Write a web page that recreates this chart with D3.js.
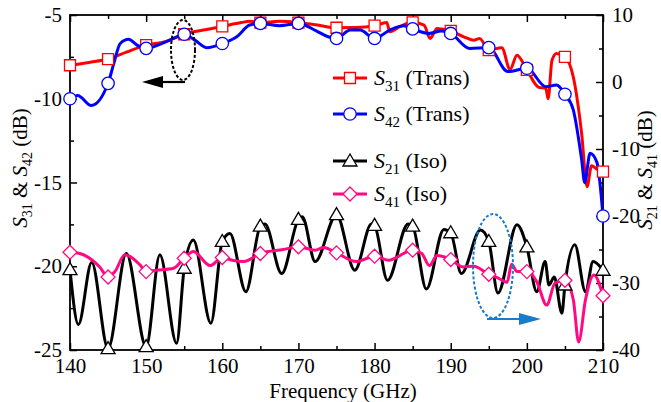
<!DOCTYPE html>
<html>
<head>
<meta charset="utf-8">
<script src="https://cdn.jsdelivr.net/npm/d3@7/dist/d3.min.js"></script>
<style>
  html, body { margin: 0; padding: 0; background: #fff; }
  svg { display: block; }
  svg text { font-family: "Liberation Serif", "Times New Roman", serif; }
</style>
</head>
<body>
<svg id="chart" width="661" height="402"></svg>
<script>
// ---------- data ----------
const xTicksMajor = [140, 150, 160, 170, 180, 190, 200, 210];
const xTicksMinor = [145, 155, 165, 175, 185, 195, 205];
const yLeftTicks = [-5, -10, -15, -20, -25];
const yLeftMinor = [-7.5, -12.5, -17.5, -22.5];
const yRightTicks = [10, 0, -10, -20, -30, -40];
const yRightMinor = [5, -5, -15, -25, -35];
const markerFreqs = [140, 145, 150, 155, 160, 165, 170, 175, 180, 185, 190, 195, 200, 205, 210];

// S31 (Trans) - left axis
const s31Freq = [140, 142.5, 145, 147.5, 150, 152.5, 155, 157.5, 160, 162.5, 163.6, 165, 167.5, 170, 172.5, 175, 177.5, 180, 181.6, 182, 183.3, 185, 186.5, 187.3, 188.2, 190, 191.7, 193, 193.8, 195, 196.7, 197.8, 198.7, 200, 201.5, 202.5, 202.8, 203.3, 203.9, 205, 206.1, 207.2, 207.9, 208.5, 209.2, 210];
const s31Val  = [-8.0, -7.83, -7.63, -7.2, -6.8, -6.6, -6.15, -5.9, -5.68, -5.45, -5.38, -5.45, -5.38, -5.45, -5.6, -5.76, -5.75, -5.64, -5.45, -6.0, -5.7, -5.44, -5.6, -6.4, -5.8, -5.95, -6.3, -6.5, -6.4, -7.1, -6.95, -8.25, -7.4, -8.28, -9.3, -9.4, -10.0, -7.7, -7.3, -7.5, -8.7, -12.1, -15.25, -14.0, -14.2, -14.35];

// S42 (Trans) - left axis
const s42Freq = [140, 141, 142.8, 145, 145.7, 146.6, 147.7, 148.8, 150, 151.8, 153.6, 155, 156.4, 158, 160, 161.9, 163.6, 165, 167.5, 170, 172.4, 173.9, 175, 176.8, 178.1, 180, 182, 183.8, 185, 187.1, 188.8, 190, 192.5, 195, 197.5, 200, 202.5, 203.9, 205, 206.1, 207.2, 207.6, 208.3, 209.2, 210];
const s42Val  = [-10.0, -9.8, -10.4, -9.08, -7.98, -6.7, -6.45, -6.8, -6.99, -6.75, -6.4, -6.15, -6.5, -6.95, -6.7, -6.3, -5.6, -5.5, -5.64, -5.5, -5.96, -6.3, -6.4, -5.9, -5.9, -6.4, -5.9, -5.64, -5.83, -6.1, -5.96, -6.1, -7.0, -6.95, -8.38, -8.18, -9.28, -9.18, -9.73, -10.67, -13.66, -15.0, -13.26, -13.8, -17.0];

// S21 (Iso) - right axis
const s21Freq = [140, 141.1, 142.85, 145, 147.4, 150, 151.8, 154.0, 155, 156.2, 158.5, 160, 161, 163.1, 165, 165.6, 167.8, 170, 170.5, 172.2, 175, 177.4, 179.6, 180, 181.7, 184.4, 185, 186.8, 189.1, 190, 191.4, 193.9, 195, 196.2, 198.7, 200, 201.3, 202.4, 202.9, 203.6, 204.6, 205, 206.3, 207.7, 208.7, 210];
const s21Val  = [-28.0, -36.2, -26.9, -39.8, -25.6, -39.5, -25.8, -39.0, -27.8, -23.6, -36.0, -23.8, -22.6, -31.3, -21.5, -21.2, -28.6, -20.5, -20.1, -26.8, -19.8, -28.1, -21.2, -21.4, -29.6, -21.2, -21.5, -30.9, -22.0, -22.5, -28.6, -22.1, -23.8, -31.5, -21.3, -24.6, -31.3, -26.8, -30.3, -29.1, -34.5, -30.3, -24.3, -31.3, -26.8, -28.1];

// S41 (Iso) - right axis
const s41Freq = [140, 141.3, 143.9, 145, 145.9, 147.2, 149.2, 150, 151.3, 153.6, 155, 156.2, 158.4, 160, 161.3, 162.8, 165, 168, 170, 172.2, 173.3, 175, 177.6, 180, 181.8, 185, 186.2, 187.2, 188.2, 190, 191.6, 193, 195, 196.3, 197.4, 198, 198.7, 200, 201.3, 202.6, 203.7, 205, 206.1, 206.8, 207.7, 208.8, 210];
const s41Val  = [-25.4, -25.6, -27.6, -29.1, -28.3, -25.8, -27.3, -28.3, -28.1, -27.8, -26.3, -25.3, -27.4, -26.2, -26.6, -26.8, -25.6, -25.0, -24.6, -25.1, -24.7, -25.5, -26.8, -26.0, -26.6, -25.1, -25.6, -27.4, -25.9, -26.5, -27.6, -27.5, -28.7, -29.3, -29.9, -27.2, -28.3, -28.3, -29.8, -33.3, -30.0, -29.6, -32.5, -38.8, -32.5, -28.8, -31.9];

const legendLabels = [
  { sub: "31", tail: " (Trans)" },
  { sub: "42", tail: " (Trans)" },
  { sub: "21", tail: " (Iso)" },
  { sub: "41", tail: " (Iso)" }
];

// ---------- setup ----------
const svg = d3.select("#chart");
const FONT = "Liberation Serif, Times New Roman, serif";
const X0 = 70, X1 = 603, Y0 = 15, Y1 = 350;

const x = d3.scaleLinear().domain([140, 210]).range([X0, X1]);
const yL = d3.scaleLinear().domain([-25, -5]).range([Y1, Y0]);
const yR = d3.scaleLinear().domain([-40, 10]).range([Y1, Y0]);

const RED = "#ff0000", BLUE = "#0000ff", BLACK = "#000000", PINK = "#ff0a82";

svg.append("defs").append("clipPath").attr("id", "plotclip")
  .append("rect").attr("x", X0).attr("y", Y0 - 2).attr("width", X1 - X0).attr("height", Y1 - Y0 + 2);

// ---------- axes ----------
function styleAxis(g) {
  g.attr("font-family", null).attr("font-size", null);
  g.selectAll("path.domain").remove();
  g.selectAll("line").attr("stroke", "#000").attr("stroke-width", 1.5);
  g.selectAll("text").style("font-family", FONT).style("font-size", "21px").attr("fill", "#000");
}
const fmt = d => String(d);

// bottom
svg.append("g").attr("transform", `translate(0,${Y1})`)
  .call(d3.axisBottom(x).tickValues(xTicksMajor).tickFormat(fmt).tickSize(-7).tickPadding(8))
  .call(styleAxis);
svg.append("g").attr("transform", `translate(0,${Y1})`)
  .call(d3.axisBottom(x).tickValues(xTicksMinor).tickFormat("").tickSize(-4))
  .call(styleAxis);
// top
svg.append("g").attr("transform", `translate(0,${Y0})`)
  .call(d3.axisTop(x).tickValues(xTicksMajor).tickFormat("").tickSize(-7))
  .call(styleAxis);
svg.append("g").attr("transform", `translate(0,${Y0})`)
  .call(d3.axisTop(x).tickValues(xTicksMinor).tickFormat("").tickSize(-4))
  .call(styleAxis);
// left
svg.append("g").attr("transform", `translate(${X0},0)`)
  .call(d3.axisLeft(yL).tickValues(yLeftTicks).tickFormat(fmt).tickSize(-7).tickPadding(8))
  .call(styleAxis);
svg.append("g").attr("transform", `translate(${X0},0)`)
  .call(d3.axisLeft(yL).tickValues(yLeftMinor).tickFormat("").tickSize(-4))
  .call(styleAxis);
// right
svg.append("g").attr("transform", `translate(${X1},0)`)
  .call(d3.axisRight(yR).tickValues(yRightTicks).tickFormat(fmt).tickSize(-7).tickPadding(9))
  .call(styleAxis);
svg.append("g").attr("transform", `translate(${X1},0)`)
  .call(d3.axisRight(yR).tickValues(yRightMinor).tickFormat("").tickSize(-4))
  .call(styleAxis);

// frame
svg.append("rect").attr("x", X0).attr("y", Y0).attr("width", X1 - X0).attr("height", Y1 - Y0)
  .attr("fill", "none").attr("stroke", "#000").attr("stroke-width", 1.8);

// ---------- axis titles ----------
svg.append("text").attr("x", 343).attr("y", 397.5).attr("text-anchor", "middle")
  .style("font-size", "21px").text("Frequency (GHz)");

function rotTitle(cx, cy, a, b) {
  const t = svg.append("text").attr("transform", `translate(${cx},${cy}) rotate(-90)`)
    .attr("text-anchor", "middle").style("font-size", "21px");
  t.append("tspan").attr("font-style", "italic").text("S");
  t.append("tspan").style("font-size", "14px").attr("dy", 5).text(a);
  t.append("tspan").attr("dy", -5).text(" & ");
  t.append("tspan").attr("font-style", "italic").text("S");
  t.append("tspan").style("font-size", "14px").attr("dy", 5).text(b);
  t.append("tspan").attr("dy", -5).text(" (dB)");
}
rotTitle(27, 168, "31", "42");
rotTitle(652, 170, "21", "41");

// ---------- series ----------
const plot = svg.append("g").attr("clip-path", "url(#plotclip)");
const mk = (fr, vals) => d3.zip(fr, vals);

function drawLine(data, yScale, color, curve) {
  plot.append("path").datum(data)
    .attr("fill", "none").attr("stroke", color).attr("stroke-width", 3)
    .attr("stroke-linejoin", "round")
    .attr("d", d3.line().x(d => x(d[0])).y(d => yScale(d[1])).curve(curve));
}

const symSquare = d3.symbol().type(d3.symbolSquare).size(121);
const symCircle = d3.symbol().type(d3.symbolCircle).size(Math.PI * 6.2 * 6.2);
const triPath = "M0,-7L7,5L-7,5Z";
const diaPath = "M0,-7L7,0L0,7L-7,0Z";

function drawMarkers(data, yScale, color, shape) {
  const pts = data.filter(d => markerFreqs.includes(d[0]));
  svg.append("g").selectAll("path").data(pts).join("path")
    .attr("transform", d => `translate(${x(d[0])},${yScale(d[1])})`)
    .attr("d", shape)
    .attr("fill", "#fff").attr("stroke", color).attr("stroke-width", 1.3);
}

const s21 = mk(s21Freq, s21Val);
const s41 = mk(s41Freq, s41Val);
const s31 = mk(s31Freq, s31Val);
const s42 = mk(s42Freq, s42Val);

drawLine(s21, yR, BLACK, d3.curveMonotoneX);
drawMarkers(s21, yR, BLACK, triPath);
drawLine(s41, yR, PINK, d3.curveMonotoneX);
drawMarkers(s41, yR, PINK, diaPath);
drawLine(s31, yL, RED, d3.curveMonotoneX);
drawMarkers(s31, yL, RED, symSquare());
drawLine(s42, yL, BLUE, d3.curveMonotoneX);
drawMarkers(s42, yL, BLUE, symCircle());

// ---------- annotations ----------
svg.append("ellipse").attr("cx", 183).attr("cy", 50).attr("rx", 12).attr("ry", 30)
  .attr("fill", "none").attr("stroke", "#000").attr("stroke-width", 2).attr("stroke-dasharray", "3,2");
svg.append("line").attr("x1", 185).attr("y1", 82).attr("x2", 158).attr("y2", 82)
  .attr("stroke", "#000").attr("stroke-width", 2.2);
svg.append("path").attr("d", "M142,82L163,76L163,88Z").attr("fill", "#000");

const AB = "#1a7acb";
svg.append("ellipse").attr("cx", 493).attr("cy", 266).attr("rx", 20).attr("ry", 52)
  .attr("fill", "none").attr("stroke", AB).attr("stroke-width", 2).attr("stroke-dasharray", "3,2");
svg.append("line").attr("x1", 487).attr("y1", 319).attr("x2", 525).attr("y2", 319)
  .attr("stroke", AB).attr("stroke-width", 2.2);
svg.append("path").attr("d", "M541,319L519,313L519,325Z").attr("fill", AB);

// ---------- legend ----------
const legY = [78, 114, 161, 194];
const legColors = [RED, BLUE, BLACK, PINK];
const legShapes = [symSquare(), symCircle(), triPath, diaPath];
legendLabels.forEach((lab, i) => {
  const g = svg.append("g");
  g.append("line").attr("x1", 333).attr("x2", 367).attr("y1", legY[i]).attr("y2", legY[i])
    .attr("stroke", legColors[i]).attr("stroke-width", 3);
  g.append("path").attr("transform", `translate(350,${legY[i]})`).attr("d", legShapes[i])
    .attr("fill", "#fff").attr("stroke", legColors[i]).attr("stroke-width", 1.3);
  const t = g.append("text").attr("x", 374).attr("y", legY[i] + 7).style("font-size", "22px");
  t.append("tspan").attr("font-style", "italic").text("S");
  t.append("tspan").style("font-size", "15px").attr("dy", 6).text(lab.sub);
  t.append("tspan").attr("dy", -6).text(lab.tail);
});
</script>
</body>
</html>
